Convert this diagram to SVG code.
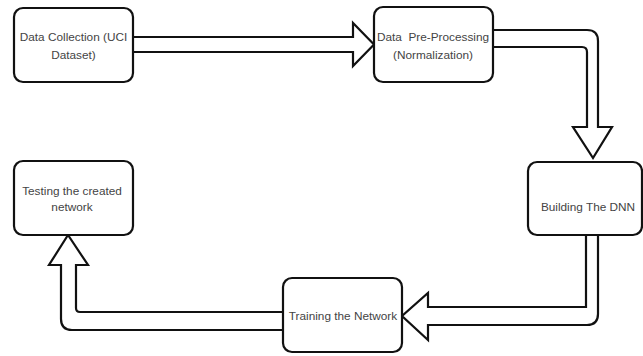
<svg xmlns="http://www.w3.org/2000/svg" width="643" height="356" viewBox="0 0 643 356">
<style>
.box{fill:#fff;stroke:#111;stroke-width:2.2}
.arr{fill:#fff;stroke:#111;stroke-width:2.2;stroke-linejoin:miter}
text{font-family:"Liberation Sans",Arial,sans-serif;font-size:11.8px;fill:#444;text-anchor:middle}
</style>
<rect width="643" height="356" fill="#fff"/>
<g id="connectors">
<path class="arr" d="M133,37 H353 V23 L374,44.5 L353,66 V52 H133"/>
<path class="arr" d="M493,30 H587 Q598,30 598,41 V127 H612 L593,158 L573,127 H587 V52 Q587,47 582,47 H493"/>
<path class="arr" d="M586,235 V307 H428 V293 L402,316 L428,340 V325 H587 Q598,325 598,314 V235"/>
<path class="arr" d="M283,312 H80 Q76,312 76,308 V265 H88 L68,235 L49,265 H61 V319 Q61,330 72,330 H283"/>
</g>
<g id="n1">
<rect class="box" x="14" y="8" width="119" height="74" rx="9"/>
<text x="73.5" y="41">Data Collection (UCI</text>
<text x="73.5" y="59">Dataset)</text>
</g>
<g id="n2">
<rect class="box" x="374" y="7" width="119" height="75" rx="9"/>
<text x="433" y="41" xml:space="preserve">Data  Pre-Processing</text>
<text x="433" y="59">(Normalization)</text>
</g>
<g id="n3">
<rect class="box" x="528" y="162" width="114" height="73" rx="9"/>
<text x="588" y="211">Building The DNN</text>
</g>
<g id="n4">
<rect class="box" x="283" y="278" width="119" height="74" rx="9"/>
<text x="343" y="320">Training the Network</text>
</g>
<g id="n5">
<rect class="box" x="14" y="161" width="119" height="74" rx="9"/>
<text x="72" y="195">Testing the created</text>
<text x="72" y="211">network</text>
</g>
</svg>
